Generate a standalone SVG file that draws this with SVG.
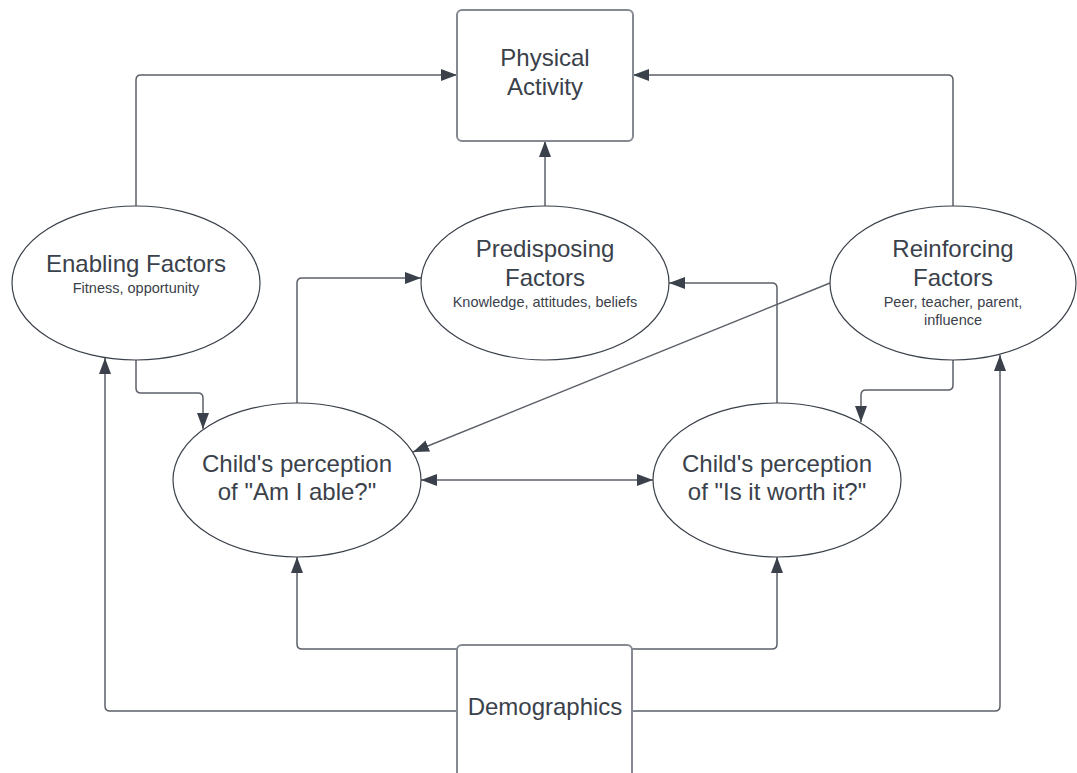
<svg xmlns="http://www.w3.org/2000/svg" width="1077" height="773" viewBox="0 0 1077 773">
  <style>
    .box { fill: #ffffff; stroke: #858991; stroke-width: 2; }
    .ell { fill: #ffffff; stroke: #3a414a; stroke-width: 1.2; }
    .edge { fill: none; stroke: #5c6068; stroke-width: 1.5; }
    .t { font-family: "Liberation Sans", Arial, sans-serif; fill: #3a414a; text-anchor: middle; }
    .big { font-size: 24px; }
    .small { font-size: 14.5px; }
  </style>
  <defs>
    <marker id="arrow" markerUnits="userSpaceOnUse" markerWidth="16" markerHeight="12" refX="16" refY="6" orient="auto-start-reverse">
      <path d="M0,0 L16,6 L0,12 z" fill="#3a414a"/>
    </marker>
  </defs>

  <rect width="1077" height="773" fill="#ffffff"/>

  <g id="connectors">
    <!-- into Physical Activity -->
    <path class="edge" d="M136,206 V80 Q136,75 141,75 H457" marker-end="url(#arrow)"/>
    <path class="edge" d="M953,206 V80 Q953,75 948,75 H633" marker-end="url(#arrow)"/>
    <path class="edge" d="M545,206 V141" marker-end="url(#arrow)"/>
    <!-- into perception nodes -->
    <path class="edge" d="M136,360 V388 Q136,393 141,393 H198 Q203,393 203,398 V429" marker-end="url(#arrow)"/>
    <path class="edge" d="M953,360 V385 Q953,390 948,390 H866 Q861,390 861,395 V422" marker-end="url(#arrow)"/>
    <path class="edge" d="M830,283 L413,452" marker-end="url(#arrow)"/>
    <!-- into Predisposing Factors -->
    <path class="edge" d="M297,403 V283 Q297,278 302,278 H421" marker-end="url(#arrow)"/>
    <path class="edge" d="M777,404 V288 Q777,283 772,283 H669" marker-end="url(#arrow)"/>
    <!-- between the two perceptions -->
    <path class="edge" d="M421,480 H653" marker-start="url(#arrow)" marker-end="url(#arrow)"/>
    <!-- from Demographics -->
    <path class="edge" d="M457,649 H302 Q297,649 297,644 V557" marker-end="url(#arrow)"/>
    <path class="edge" d="M632,649 H772 Q777,649 777,644 V557" marker-end="url(#arrow)"/>
    <path class="edge" d="M457,711 H110 Q105,711 105,706 V358" marker-end="url(#arrow)"/>
    <path class="edge" d="M632,711 H995 Q1000,711 1000,706 V355" marker-end="url(#arrow)"/>
  </g>

  <g id="physical-activity">
    <rect class="box" x="457" y="10" width="176" height="131" rx="5"/>
    <text class="t big" x="545" y="66">Physical</text>
    <text class="t big" x="545" y="95">Activity</text>
  </g>

  <g id="enabling-factors">
    <ellipse class="ell" cx="136" cy="283" rx="124" ry="77"/>
    <text class="t big" x="136" y="272">Enabling Factors</text>
    <text class="t small" x="136" y="293">Fitness, opportunity</text>
  </g>

  <g id="predisposing-factors">
    <ellipse class="ell" cx="545" cy="283" rx="124" ry="77"/>
    <text class="t big" x="545" y="257">Predisposing</text>
    <text class="t big" x="545" y="286">Factors</text>
    <text class="t small" x="545" y="307">Knowledge, attitudes, beliefs</text>
  </g>

  <g id="reinforcing-factors">
    <ellipse class="ell" cx="953" cy="283" rx="123" ry="77"/>
    <text class="t big" x="953" y="257">Reinforcing</text>
    <text class="t big" x="953" y="286">Factors</text>
    <text class="t small" x="953" y="307">Peer, teacher, parent,</text>
    <text class="t small" x="953" y="325">influence</text>
  </g>

  <g id="perception-able">
    <ellipse class="ell" cx="297" cy="480" rx="124" ry="77"/>
    <text class="t big" x="297" y="472">Child's perception</text>
    <text class="t big" x="297" y="500">of "Am I able?"</text>
  </g>

  <g id="perception-worth">
    <ellipse class="ell" cx="777" cy="480" rx="124" ry="77"/>
    <text class="t big" x="777" y="472">Child's perception</text>
    <text class="t big" x="777" y="500">of "Is it worth it?"</text>
  </g>

  <g id="demographics">
    <rect class="box" x="457" y="645" width="175" height="134" rx="5"/>
    <text class="t big" x="545" y="715">Demographics</text>
  </g>
</svg>
